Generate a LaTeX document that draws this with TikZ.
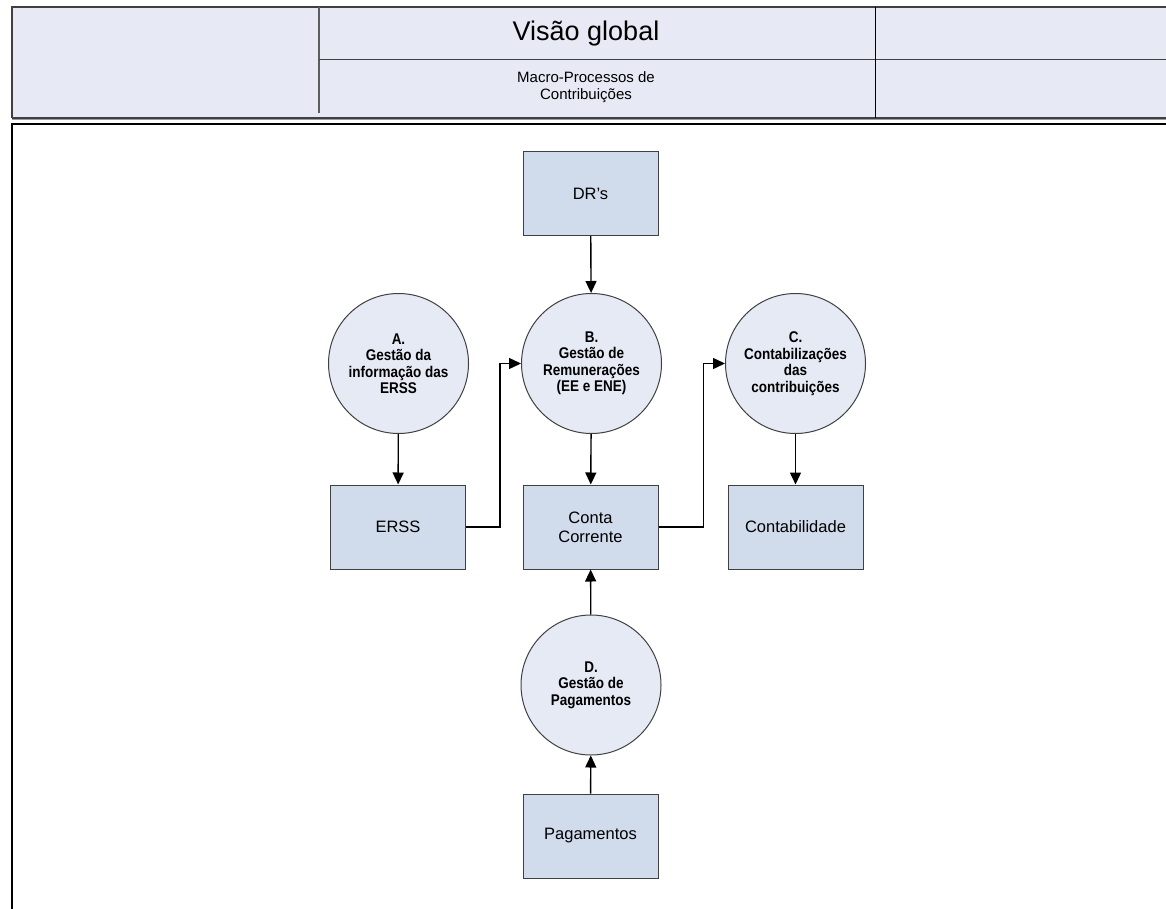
\documentclass[tikz,border=0pt]{standalone}
\usepackage{fontspec}
\setmainfont{Liberation Sans}
\newfontfamily\narrowbold{Liberation Sans}[FakeStretch=0.87]
\usetikzlibrary{arrows.meta,calc}
\definecolor{hdrbg}{HTML}{E7EAF4}
\definecolor{boxfill}{HTML}{D0DBEC}
\definecolor{circfill}{HTML}{E6EAF5}
\definecolor{edgegray}{HTML}{404040}
\begin{document}
\begin{tikzpicture}[x=1pt,y=-1pt,
  store/.style={rectangle, draw=edgegray, line width=1pt, fill=boxfill,
    minimum width=135pt, minimum height=84pt, inner sep=0pt, align=center,
    font=\fontsize{16.5}{19}\selectfont},
  proc/.style={circle, draw=edgegray, line width=1pt, fill=circfill,
    minimum size=140pt, inner sep=0pt, align=center,
    font=\narrowbold\bfseries\fontsize{15.5}{16.5}\selectfont},
  flow/.style={draw=black, line width=1.4pt, -{Triangle[length=12pt,width=11pt]}},
  hdrtext/.style={inner sep=0pt, align=center}]
\useasboundingbox (0,0) rectangle (1166,909);

% title block
\fill[hdrbg] (12,7) rectangle (1200,118);
\draw[edgegray, line width=1.2pt] (12,118) -- (12,7) -- (1200,7);
\draw[edgegray, line width=1.2pt] (12,118) -- (1200,118);
\draw[black!40, line width=1pt] (12,120) -- (1200,120);
\draw[edgegray!85, line width=1.6pt] (319,7) -- (319,113);
\draw[edgegray, line width=1pt] (319,60) -- (1200,60);
\draw[black, line width=1pt] (875,7) -- (875,118);
\node[hdrtext, font=\fontsize{27}{30}\selectfont] (title) at (586,34) {Visão global};
\node[hdrtext, font=\fontsize{15}{17.5}\selectfont] (subtitle) at (586,87) {Macro-Processos de\\Contribuições};

% drawing frame
\draw[black, line width=1.5pt] (12,950) -- (12,124) -- (1200,124);

% stores and processes
\node[store] (dr)   at (590.5,193.5) {DR’s};
\node[proc]  (a)    at (398.5,363.5) {A.\\Gestão da\\informação das\\ERSS};
\node[proc]  (b)    at (591.5,363.5) {B.\\Gestão de\\Remunerações\\(EE e ENE)};
\node[proc]  (c)    at (795.5,363.5) {C.\\Contabilizações\\das\\contribuições};
\node[store] (erss) at (398,527)     {ERSS};
\node[store] (cc)   at (590.5,527)   {Conta\\Corrente};
\node[store] (ctb)  at (795.5,527)   {Contabilidade};
\node[proc]  (d)    at (591,685)     {D.\\Gestão de\\Pagamentos};
\node[store] (pag)  at (590.5,836)   {Pagamentos};

% flows
\draw[flow] (dr) -- (b);
\draw[flow] (a) -- (erss);
\draw[flow] (b) -- (cc);
\draw[flow] (c) -- (ctb);
\draw[flow] (pag) -- (d);
\draw[flow] (d) -- (cc);
\draw[flow] (erss.east) -- ++(34,0) |- (b.west);
\draw[flow] (cc.east) -- ++(45,0) |- (c.west);
\end{tikzpicture}
\end{document}
